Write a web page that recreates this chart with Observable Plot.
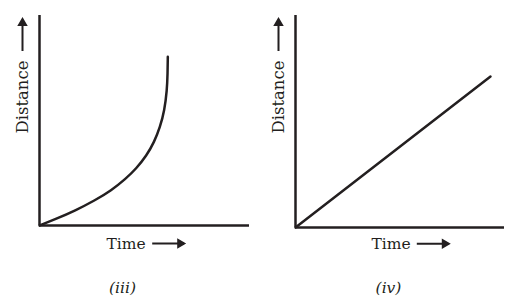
<!DOCTYPE html>
<html>
<head>
<meta charset="utf-8">
<script src="https://cdn.jsdelivr.net/npm/d3@7"></script>
<script src="https://cdn.jsdelivr.net/npm/@observablehq/plot@0.6"></script>
<style>
  html, body { margin: 0; padding: 0; background: #fff; }
  #wrap { display: flex; width: 510px; height: 298px; }
  svg { display: block; }
</style>
</head>
<body>
<div id="wrap"></div>
<script>
// Panel (iii): accelerating motion – distance vs time
const timeIII     = [0, 0.78, 1.70, 2.63, 3.42, 4.10, 4.60, 5.10, 5.46, 5.74, 5.95, 6.07, 6.10, 6.11];
const distanceIII = [0, 0.31, 0.71, 1.19, 1.67, 2.22, 2.70, 3.33, 3.97, 4.68, 5.48, 6.43, 7.24, 8.03];
// Panel (iv): uniform motion – straight line
const timeIV      = [0, 9.33];
const distanceIV  = [0, 7.12];

const panelLabels = ["(iii)", "(iv)"];
const xLabel = "Time";
const yLabel = "Distance";

const ink = "#231f20";
const font = "DejaVu Serif";

// filled arrow glyph (shaft + triangular head), drawn as a dot symbol
const arrowSymbol = {
  draw(ctx) {
    ctx.moveTo(-17, -1);
    ctx.lineTo(8, -1);
    ctx.lineTo(8, -5.25);
    ctx.lineTo(17, 0);
    ctx.lineTo(8, 5.25);
    ctx.lineTo(8, 1);
    ctx.lineTo(-17, 1);
    ctx.closePath();
  }
};

function panel(times, dists, label, o) {
  const data = times.map((t, i) => ({t, d: dists[i]}));
  return Plot.plot({
    width: 255,
    height: 298,
    marginLeft: o.ml,
    marginRight: 6,
    marginTop: 15,
    marginBottom: o.mb,
    x: {domain: [0, 10], axis: null},
    y: {domain: [0, 10], axis: null},
    style: {background: "white", fontFamily: font},
    marks: [
      Plot.ruleX([0], {stroke: ink, strokeWidth: 2.5}),
      Plot.ruleY([0], {stroke: ink, strokeWidth: 2.5}),
      Plot.line(data, {x: "t", y: "d", stroke: ink, strokeWidth: 2.5, curve: "basis"}),
      // y label + upward arrow
      Plot.text([yLabel], {
        text: d => d, frameAnchor: "top-left", rotate: -90, textAnchor: "end", lineAnchor: "bottom",
        dx: -12, dy: 45, fontSize: 16.5, fill: ink, fontFamily: font
      }),
      Plot.dot([yLabel], {
        frameAnchor: "top-left", symbol: arrowSymbol, r: 1, rotate: -90,
        fill: ink, stroke: "none", dx: -17, dy: 18.5
      }),
      // x label + right arrow
      Plot.text([xLabel], {
        text: d => d, frameAnchor: "bottom-left", textAnchor: "start", lineAnchor: "bottom",
        dx: o.tdx, dy: o.tdy, fontSize: 15.5, fill: ink, fontFamily: font
      }),
      Plot.dot([xLabel], {
        frameAnchor: "bottom-left", symbol: arrowSymbol, r: 1,
        fill: ink, stroke: "none", dx: o.adx, dy: o.ady
      }),
      // panel label
      Plot.text([label], {
        text: d => d, frameAnchor: "bottom-left", textAnchor: "middle", lineAnchor: "bottom",
        dx: o.ldx, dy: o.ldy, fontSize: 15.5, fontStyle: "italic", fill: ink, fontFamily: font
      })
    ]
  });
}

const wrap = document.getElementById("wrap");
wrap.append(panel(timeIII, distanceIII, panelLabels[0],
  {ml: 39, mb: 73, tdx: 67, tdy: 23, adx: 129.7, ady: 18, ldx: 83, ldy: 67}));
wrap.append(panel(timeIV, distanceIV, panelLabels[1],
  {ml: 40, mb: 71, tdx: 76, tdy: 21, adx: 138.3, ady: 16.3, ldx: 93, ldy: 65}));
</script>
</body>
</html>
